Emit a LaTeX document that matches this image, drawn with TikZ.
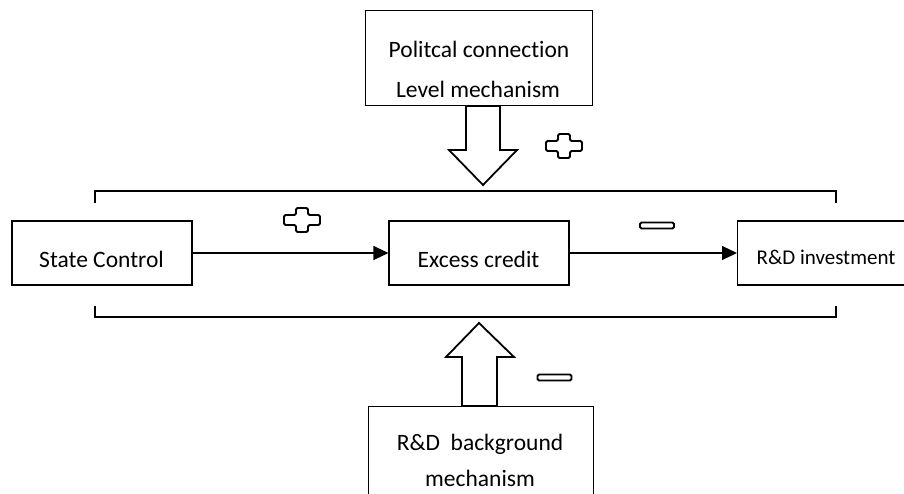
\documentclass[tikz,border=0pt]{standalone}
\usepackage{fontspec}
\setmainfont{Carlito}[Ligatures=NoCommon]
\usetikzlibrary{arrows.meta,calc}

\tikzset{
	box/.style={draw, line width=1.1pt, inner sep=0pt},
	txt/.style={font=\fontsize{23.5}{28}\selectfont, inner sep=0pt, anchor=base},
	flow/.style={line width=1.1pt, -{Triangle[length=15pt,width=14pt]}},
	blockarrow/.style={draw, line width=1.8pt, line join=miter, fill=white},
	sign/.style={draw, line width=1.8pt, rounded corners=1.5pt},
	bracket/.style={line width=1.1pt}
}

\begin{document}
\begin{tikzpicture}[x=1pt, y=-1pt]
	\useasboundingbox (0,0) rectangle (904,493);
	\clip (0,0) rectangle (904,493);

	\pgfmathsetmacro{\rowy}{253}		%height of the main row
	\pgfmathsetmacro{\bl}{95}			%left end of brackets
	\pgfmathsetmacro{\br}{836}			%right end of brackets
	\pgfmathsetmacro{\bt}{191}			%top bracket
	\pgfmathsetmacro{\bb}{317}			%bottom bracket

	%main row
	\node[box, minimum width=180, minimum height=64] (state) at (102,\rowy) {};
	\node[txt] (statetxt) at (101.5,267) {State Control};
	\node[box, minimum width=180, minimum height=64] (credit) at (479,\rowy) {};
	\node[txt] (credittxt) at (478.5,267) {Excess credit};
	\node[box, minimum width=180, minimum height=64, anchor=west] (rd) at (737,\rowy) {};
	\node[txt, font=\fontsize{21}{25}\selectfont] (rdtxt) at (826,264.5) {R\&D investment};

	\draw[flow] (state.east) -- (credit.west);
	\draw[flow] (credit.east) -- (rd.west);

	%top and bottom mechanisms
	\node[box, minimum width=227, minimum height=95] (pol) at (479,58) {};
	\node[txt] (poltxt1) at (479,57) {Politcal connection};
	\node[txt] (poltxt2) at (478,97) {Level mechanism};
	\node[box, minimum width=225, minimum height=140, anchor=north west] (bg) at (368,406) {};
	\node[txt] (bgtxt1) at (480,450) {R\&D\ \ background};
	\node[txt] (bgtxt2) at (480,486) {mechanism};

	%brackets
	\draw[bracket] (\bl,203) -- (\bl,\bt) -- (\br,\bt) -- (\br,203);
	\draw[bracket] (\bl,306) -- (\bl,\bb) -- (\br,\bb) -- (\br,306);

	%block arrows
	\coordinate (downtip) at (483,185);
	\coordinate (uptip) at (479,323);
	\draw[blockarrow] (pol.south -| 466,0) -- (466,150) -- (449,150) -- (downtip)
		-- (517,150) -- (500,150) -- (pol.south -| 500,0) -- cycle;
	\draw[blockarrow] (bg.north -| 462,0) -- (462,357) -- (446,357) -- (uptip)
		-- (514,357) -- (497,357) -- (bg.north -| 497,0) -- cycle;

	%signs
	\coordinate (plus1) at (302,220);
	\coordinate (plus2) at (564,146);
	\foreach \c in {plus1,plus2}{
		\draw[sign] ($(\c)+(-6,-12)$) -- ++(12,0) -- ++(0,7) -- ++(12,0) -- ++(0,10)
			-- ++(-12,0) -- ++(0,7) -- ++(-12,0) -- ++(0,-7) -- ++(-12,0) -- ++(0,-10)
			-- ++(12,0) -- cycle;
	}
	\coordinate (minus1) at (657,225.5);
	\coordinate (minus2) at (554.5,377.5);
	\foreach \c in {minus1,minus2}{
		\draw[sign] ($(\c)+(-17,-3)$) rectangle ++(34,6);
	}
\end{tikzpicture}
\end{document}
